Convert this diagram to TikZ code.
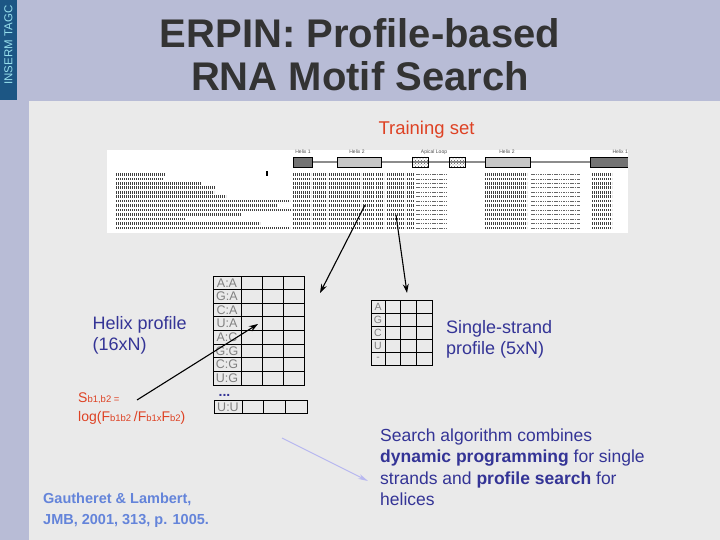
\documentclass[tikz,border=0pt]{standalone}
\usepackage{fontspec}
\setmainfont{Liberation Sans}
\usetikzlibrary{arrows.meta,patterns}
\definecolor{headlav}{RGB}{184,188,214}
\definecolor{pagegray}{RGB}{234,234,234}
\definecolor{stripblue}{RGB}{28,86,132}
\definecolor{stripcyan}{RGB}{150,222,236}
\definecolor{titlegray}{RGB}{51,51,51}
\definecolor{trainred}{RGB}{222,66,36}
\definecolor{profblue}{RGB}{52,52,150}
\definecolor{citeblue}{RGB}{100,132,218}
\definecolor{cellgray}{RGB}{128,128,128}
\definecolor{arrlav}{RGB}{184,184,240}
\newcommand{\lowtx}[1]{\raisebox{-0.5pt}{\fontsize{9.5}{10}\selectfont #1}}

\begin{document}
\begin{tikzpicture}[x=1pt,y=-1pt,
  title/.style={font=\fontsize{40}{44}\selectfont\bfseries, text=titlegray,
    anchor=base, inner sep=0pt},
  bluetxt/.style={font=\fontsize{18}{21.5}\selectfont, text=profblue,
    align=left, anchor=base west, inner sep=0pt},
  formula/.style={font=\fontsize{14}{16}\selectfont, text=trainred,
    anchor=base west, inner sep=0pt},
  pairlbl/.style={font=\fontsize{12.5}{13}\selectfont, text=cellgray, inner sep=0pt},
  baselbl/.style={font=\fontsize{10.5}{11}\selectfont, text=cellgray, inner sep=0pt},
  helixlbl/.style={font=\fontsize{5}{6}\selectfont, text=black!70, inner sep=0pt},
  tbl/.style={draw=black, line width=0.9pt},
  barbox/.style={draw=black, line width=0.5pt},
  seqtx/.style={line width=2.6pt, black!75, dash pattern=on 1.4pt off 0.6pt},
  gaptx/.style={line width=0.6pt, black!60, dash pattern=on 1.5pt off 0.8pt},
  arr/.style={-{Stealth[length=9pt,width=6pt]}, line width=1.1pt, black},
  lavarr/.style={-{Stealth[length=10pt,width=5pt]}, line width=1pt, arrlav}
]
\useasboundingbox (0,0) rectangle (720,540);
\fill[headlav] (0,0) rectangle (720,540);
\fill[pagegray] (29,101) rectangle (720,540);
\fill[stripblue] (0,0) rectangle (17,100);
\node[rotate=90, font=\fontsize{11.5}{12}\selectfont, text=stripcyan] (inserm) at (8.5,45) {INSERM TAGC};

\node[title] (title1) at (360,48) {ERPIN: Profile-based};
\node[title] (title2) at (360,91) {RNA Motif Search};

\node[font=\fontsize{18.5}{20}\selectfont, text=trainred, anchor=base, inner sep=0pt]
  (trainlbl) at (426.5,135) {Training set};

% training alignment
\fill[white] (107,150) rectangle (628,233);
\draw[line width=2.6pt, black!45] (293,162) -- (628,162);
\draw[barbox, fill=black!55] (293,157) rectangle (312,167);
\draw[barbox, fill=black!22] (337,157) rectangle (381,167);
\draw[barbox, pattern=crosshatch dots, pattern color=black!65] (412,157) rectangle (428,167);
\draw[barbox, pattern=crosshatch dots, pattern color=black!65] (449,157) rectangle (465,167);
\draw[barbox, fill=black!22] (485,157) rectangle (530,167);
\fill[black!55] (590,157) rectangle (628,167);
\draw[line width=0.5pt] (628,157) -| (590,167) -- (628,167);
\node[helixlbl] (hx1a) at (303,152) {Helix 1};
\node[helixlbl] (hx2a) at (357,152) {Helix 2};
\node[helixlbl] (loop) at (434,152) {Apical Loop};
\node[helixlbl] (hx2b) at (507,152) {Helix 2};
\node[helixlbl, anchor=east] (hx1b) at (628,152) {Helix 1};
\fill (265.5,171.5) rectangle (267.5,176.5);
\foreach \len [count=\r] in {165,163,201,215,214,226,290,277,292,241,185,260,290}{
  \draw[seqtx] (116,{170+4.45*\r}) -- (\len,{170+4.45*\r});
  \foreach \a/\b in {293/311,313/327,329/361,363/374,376/384,387/405,407/414,485/527,592/612}
    \draw[seqtx] (\a,{170+4.45*\r}) -- (\b,{170+4.45*\r});
  \foreach \a/\b in {416/447,531/580}
    \draw[gaptx] (\a,{170+4.45*\r}) -- (\b,{170+4.45*\r});
}

% helix profile table
\draw[tbl] (213,276) rectangle (304,385);
\foreach \x in {241,262,283} \draw[tbl] (\x,276) -- (\x,385);
\foreach \i in {1,...,7} \draw[tbl] (213,{276+13.6*\i}) -- (304,{276+13.6*\i});
\foreach \p [count=\i] in {A:A,G:A,C:A,U:A,A:C,G:G,C:G,U:G}
  \node[pairlbl] (hp\i) at (227,{269.2+13.6*\i}) {\p};
\node[font=\fontsize{14}{14}\selectfont\bfseries, text=profblue, anchor=base, inner sep=0pt]
  (dots) at (224.5,396) {...};
\draw[tbl] (214,400.7) rectangle (307,413.3);
\foreach \x in {242,263,285} \draw[tbl] (\x,400.7) -- (\x,413.3);
\node[pairlbl] (huu) at (228,407) {U:U};

% single-strand table
\draw[tbl] (371,300) rectangle (432,365);
\foreach \x in {385,400.7,416.3} \draw[tbl] (\x,300) -- (\x,365);
\foreach \i in {1,...,4} \draw[tbl] (371,{300+13*\i}) -- (432,{300+13*\i});
\foreach \b [count=\i] in {A,G,C,U,-}
  \node[baselbl] (ss\i) at (378,{293.5+13*\i}) {\b};

\node[bluetxt] (helixtxt) at (92.5,350.5) {Helix profile\\(16xN)};
\node[bluetxt] (singletxt) at (446,354.5) {Single-strand\\profile (5xN)};

\node[formula] (sform) at (78,402) {S\lowtx{b1,b2 =}};
\node[formula] (logform) at (78,421) {log(F\lowtx{b1b2 }/F\lowtx{b1x}F\lowtx{b2})};

\node[font=\fontsize{17.5}{21.5}\selectfont, text=profblue, align=left,
  anchor=base west, inner sep=0pt] (searchtxt) at (380,505.5)
  {Search algorithm combines\\\textbf{dynamic programming} for single\\strands and \textbf{profile search} for\\helices};

\node[font=\fontsize{14.5}{21}\selectfont\bfseries, text=citeblue, align=left,
  anchor=base west, inner sep=0pt] (cite) at (43,524)
  {Gautheret \& Lambert,\\JMB, 2001, 313, p. 1005.};

% connectors
\coordinate (trA) at (365,205);
\coordinate (trB) at (396,215);
\coordinate (tipA) at (320,293);
\coordinate (tipB) at (407,293);
\coordinate (formtail) at (137,400);
\coordinate (celltip) at (258,324);
\coordinate (lavtail) at (282,438);
\coordinate (lavtip) at (368,481);
\draw[arr] (trA) -- (tipA);
\draw[arr] (trB) -- (tipB);
\draw[arr] (formtail) -- (celltip);
\draw[lavarr] (lavtail) -- (lavtip);
\end{tikzpicture}
\end{document}
